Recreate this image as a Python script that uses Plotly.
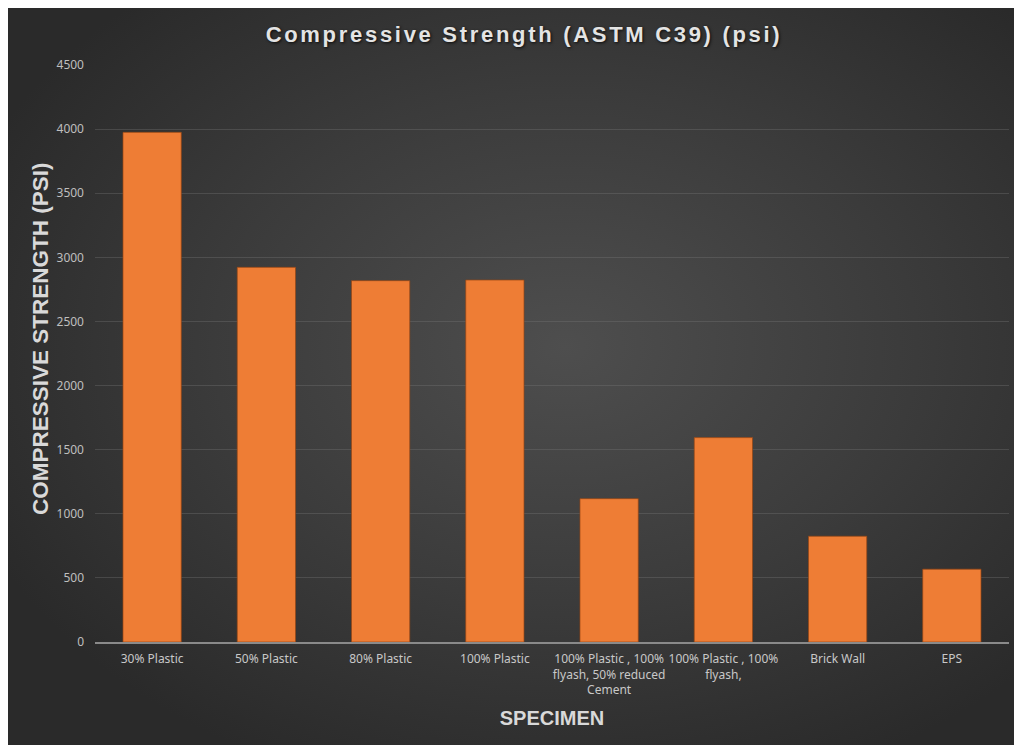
import base64
import plotly.graph_objects as go

categories = [
    "30% Plastic",
    "50% Plastic",
    "80% Plastic",
    "100% Plastic",
    "100% Plastic , 100%<br>flyash, 50% reduced<br>Cement",
    "100% Plastic , 100%<br>flyash,",
    "Brick Wall",
    "EPS",
]
strength_psi = [3975, 2922, 2818, 2823, 1118, 1594, 825, 568]
y_ticks = [0, 500, 1000, 1500, 2000, 2500, 3000, 3500, 4000, 4500]

W, H = 1014, 745
ml, mr, mt, mb = 95, 5, 65, 103
pw = W - ml - mr
ph = H - mt - mb


def px_x(p):
    return (p - ml) / pw


def px_y(p):
    return (H - mb - p) / ph


svg = (
    '<svg xmlns="http://www.w3.org/2000/svg" width="1040" height="760" preserveAspectRatio="none">'
    '<defs><radialGradient id="g" cx="0.54" cy="0.45" r="0.62" fx="0.54" fy="0.45">'
    '<stop offset="0" stop-color="#4e4e4e"/>'
    '<stop offset="0.55" stop-color="#3b3b3b"/>'
    '<stop offset="1" stop-color="#2a2a2a"/>'
    '</radialGradient></defs>'
    '<rect width="1040" height="760" fill="url(#g)"/></svg>'
)
bg_src = "data:image/svg+xml;base64," + base64.b64encode(svg.encode()).decode()

fig = go.Figure(
    go.Bar(
        x=categories,
        y=strength_psi,
        marker=dict(color="#EE7D35", line=dict(color="rgba(150,70,20,0.7)", width=1)),
        width=0.51,
        hoverinfo="x+y",
    )
)

fig.add_layout_image(
    source=bg_src,
    xref="paper", yref="paper",
    x=px_x(8), y=px_y(8),
    sizex=(1040 - 8) / pw, sizey=(760 - 8) / ph,
    xanchor="left", yanchor="top",
    sizing="stretch", layer="below",
)

# white frame strips (top and left) as in the source screenshot
fig.add_shape(type="rect", xref="paper", yref="paper", layer="below",
              x0=px_x(-5), x1=px_x(8), y0=px_y(H + 10), y1=px_y(-10),
              fillcolor="white", line=dict(width=0))
fig.add_shape(type="rect", xref="paper", yref="paper", layer="below",
              x0=px_x(-5), x1=px_x(W + 10), y0=px_y(8), y1=px_y(-10),
              fillcolor="white", line=dict(width=0))

fig.add_annotation(
    text="COMPRESSIVE STRENGTH (PSI)",
    xref="paper", yref="paper",
    x=px_x(40), y=px_y(339),
    xanchor="center", yanchor="middle",
    textangle=-90, showarrow=False,
    font=dict(family="Liberation Sans", size=22.5, color="#d9d9d9", weight="bold"),
)

fig.update_layout(
    width=W, height=H,
    margin=dict(l=ml, r=mr, t=mt, b=mb),
    paper_bgcolor="#2b2b2b",
    plot_bgcolor="rgba(0,0,0,0)",
    showlegend=False,
    title=dict(
        text="Compressive Strength (ASTM C39) (psi)",
        x=524 / W, xanchor="center",
        y=1 - 34 / H, yanchor="middle",
        font=dict(family="Liberation Sans", size=22, color="#e4e4e4", weight="bold",
                  shadow="1px 1px 3px rgba(0,0,0,0.8)"),
    ),
    font=dict(family="Noto Sans", size=12, color="#bfbfbf"),
)

fig.update_xaxes(
    tickfont=dict(family="Noto Sans", size=12, color="#c8c8c8"),
    showgrid=False,
    showline=True, linecolor="#8a8a8a", linewidth=1.5,
    ticks="", ticklabelstandoff=5,
    title=dict(text="SPECIMEN", standoff=14,
               font=dict(family="Liberation Sans", size=20, color="#d9d9d9", weight="bold")),
    fixedrange=True,
)
fig.update_yaxes(
    range=[0, 4500],
    tickvals=y_ticks,
    tickfont=dict(family="Noto Sans", size=12, color="#bfbfbf"),
    showgrid=True, gridcolor="rgba(120,120,120,0.35)", gridwidth=1,
    zeroline=False,
    showline=False,
    ticks="", ticklabelstandoff=10,
    fixedrange=True,
)

post = """
var s = document.createElement('style');
s.textContent = '.gtitle{letter-spacing:2.7px;}';
document.head.appendChild(s);
"""

fig.write_html("out.html", post_script=post)
